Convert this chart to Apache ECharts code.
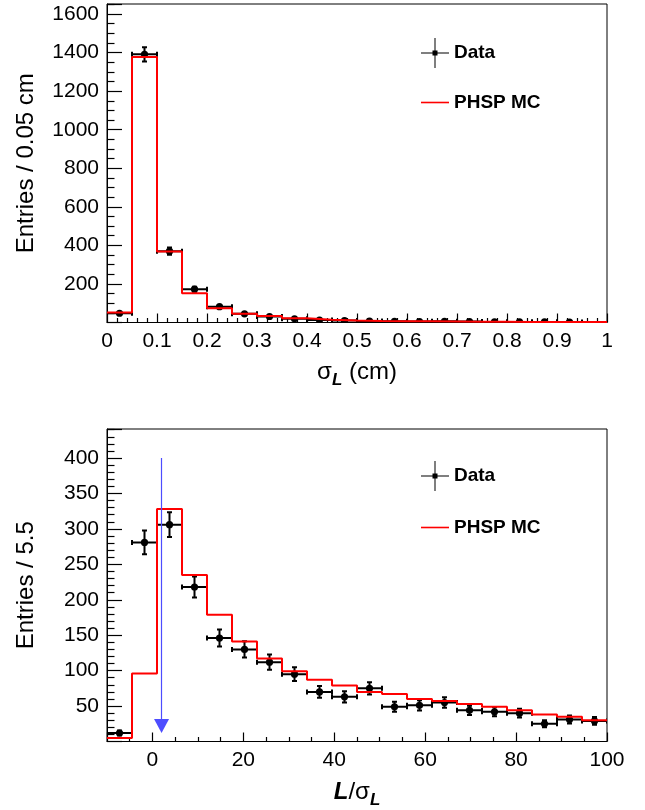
<!DOCTYPE html>
<html>
<head>
<meta charset="utf-8">
<script src="https://cdn.jsdelivr.net/npm/echarts@6/dist/echarts.min.js"></script>
<style>
  html, body { margin: 0; padding: 0; background: #fff; }
  #chart { width: 645px; height: 810px; }
</style>
</head>
<body>
<div id="chart"></div>
<script>
// sigma_L (cm), bins of 0.05 cm starting at 0
const sigBinStart = 0;
const sigBinWidth = 0.05;
const sigData = [48, 1391, 370, 173, 82, 45, 31, 19, 13, 10, 7, 6, 5, 6, 5, 3, 3, 3, 2, null];
const sigDataErr = [7, 37, 19, 13, 9, 6.7, 5.6, 4.4, 3.6, 3.2, 2.6, 2.4, 2.2, 2.4, 2.2, 1.7, 1.7, 1.7, 1.4, 0];
const sigMC = [52, 1377, 368, 152, 74, 46, 34, 22, 14, 10, 8, 7, 6, 5, 4, 4, 3, 3, 2, 2];

// L/sigma_L, bins of 5.5 starting at -10
const lsBinStart = -10;
const lsBinWidth = 5.5;
const lsData = [12, 281, 306, 218, 146, 130, 112, 95, 70, 63, 75, 49, 51, 55, 44, 42, 40, 25, 31, 29];
const lsDataErr = [3.5, 16.8, 17.5, 14.8, 12.1, 11.4, 10.6, 9.7, 8.4, 7.9, 8.7, 7, 7.1, 7.4, 6.6, 6.5, 6.3, 5, 5.6, 5.4];
const lsMC = [5, 96, 328, 235, 179, 141, 117, 99, 87, 79, 70, 67, 60, 57, 53, 49, 44, 38, 35, 30];

// cut arrow on L/sigma_L: [x, from, to]
const cutArrow = [2, 400, 22];

const FONT = '"Liberation Sans", Arial, Helvetica, sans-serif';

// histogram outline: one point per left bin edge plus the closing edge
function stepPoints(start, width, vals) {
  const pts = vals.map((v, i) => [start + i * width, v]);
  pts.push([start + vals.length * width, vals[vals.length - 1]]);
  return pts;
}

function pointItems(start, width, vals, errs) {
  const out = [];
  vals.forEach((v, i) => {
    if (v == null) return;
    out.push([start + (i + 0.5) * width, v, width / 2, errs[i]]);
  });
  return out;
}

function renderPoints(params, api) {
  const x = api.value(0), y = api.value(1), ex = api.value(2), ey = api.value(3);
  const c = api.coord([x, y]);
  const l = api.coord([x - ex, y]), r = api.coord([x + ex, y]);
  const t = api.coord([x, y + ey]), b = api.coord([x, y - ey]);
  const st = { stroke: '#000', lineWidth: 2 };
  const cap = 2.5;
  const line = (x1, y1, x2, y2) => ({ type: 'line', shape: { x1, y1, x2, y2 }, style: st });
  return {
    type: 'group',
    children: [
      line(l[0], c[1], r[0], c[1]),
      line(l[0], c[1] - cap, l[0], c[1] + cap),
      line(r[0], c[1] - cap, r[0], c[1] + cap),
      line(c[0], t[1], c[0], b[1]),
      line(c[0] - cap, t[1], c[0] + cap, t[1]),
      line(c[0] - cap, b[1], c[0] + cap, b[1]),
      { type: 'circle', shape: { cx: c[0], cy: c[1], r: 3.6 }, style: { fill: '#000' } }
    ]
  };
}

const tickLabel = { color: '#000', fontSize: 21, fontFamily: FONT };

function xAxisBase(grid, opts) {
  return Object.assign({
    type: 'value',
    gridIndex: grid,
    axisLine: { show: true, onZero: false, lineStyle: { color: '#000', width: 1 } },
    axisTick: { show: true, inside: true, length: 9, lineStyle: { color: '#000', width: 1.2 } },
    splitLine: { show: false },
    nameLocation: 'middle',
    nameTextStyle: { color: '#000', fontSize: 24, fontFamily: FONT }
  }, opts);
}

function yAxisBase(grid, opts) {
  return Object.assign({
    type: 'value',
    gridIndex: grid,
    axisLine: { show: true, onZero: false, lineStyle: { color: '#000', width: 1 } },
    axisTick: { show: true, inside: true, length: 15, lineStyle: { color: '#000', width: 1.2 } },
    splitLine: { show: false },
    nameLocation: 'middle',
    nameGap: 69,
    nameTextStyle: { color: '#000', fontSize: 24, fontFamily: FONT }
  }, opts);
}

const legendText = { color: '#000', fontSize: 19, fontWeight: 'bold', fontFamily: FONT };
const dataIcon = 'path://M13.5,0h1v30h-1z M0,14.5h28v1h-28z M11.5,12.5h5v5h-5z';
const mcIcon = 'path://M0,0h28v1.6h-28z';

function legendItem(name, icon, left, top, h) {
  return {
    data: [name], icon: icon, left: left, top: top, orient: 'vertical',
    itemWidth: 28, itemHeight: h, itemStyle: { borderWidth: 0 },
    textStyle: legendText, selectedMode: false
  };
}

const minor = (n, len) => ({ show: true, splitNumber: n, length: len, lineStyle: { color: '#000', width: 1.2 } });

const chart = echarts.init(document.getElementById('chart'));

chart.setOption({
  backgroundColor: '#fff',
  animation: false,
  grid: [
    { left: 107, top: 4, width: 500, height: 318.5, show: true, borderColor: '#000', borderWidth: 1, backgroundColor: 'transparent' },
    { left: 107, top: 429, width: 500, height: 318, show: true, borderColor: '#000', borderWidth: 1, backgroundColor: 'transparent' }
  ],
  legend: [
    legendItem('Data', dataIcon, 416, 33, 30),
    legendItem('PHSP MC', mcIcon, 416, 88, 1.6),
    legendItem('Data', dataIcon, 416, 456, 30),
    legendItem('PHSP MC', mcIcon, 416, 513, 1.6)
  ],
  xAxis: [
    xAxisBase(0, {
      min: 0, max: 1, interval: 0.1,
      minorTick: minor(5, 4.5),
      axisLabel: Object.assign({ margin: 8 }, tickLabel),
      name: '{g|σ}{sub|L}{g| (cm)}',
      nameGap: 35,
      nameTextStyle: {
        rich: {
          g: { fontSize: 24, fontFamily: FONT, color: '#000', lineHeight: 30 },
          sub: { fontSize: 17, fontFamily: FONT, color: '#000', fontStyle: 'italic', fontWeight: 'bold', lineHeight: 17, padding: [16, 0, 0, 0] }
        }
      }
    }),
    xAxisBase(1, {
      min: lsBinStart, max: lsBinStart + lsBinWidth * lsMC.length, splitNumber: 5,
      minorTick: minor(4, 4.5),
      axisLabel: Object.assign({
        margin: 8,
        formatter: v => (v % 20 === 0 ? String(v) : '')
      }, tickLabel),
      name: '{b|L}{g|/σ}{sub|L}',
      nameGap: 36,
      nameTextStyle: {
        rich: {
          b: { fontSize: 24, fontFamily: FONT, color: '#000', fontStyle: 'italic', fontWeight: 'bold', lineHeight: 30 },
          g: { fontSize: 24, fontFamily: FONT, color: '#000', lineHeight: 30 },
          sub: { fontSize: 17, fontFamily: FONT, color: '#000', fontStyle: 'italic', fontWeight: 'bold', lineHeight: 17, padding: [16, 0, 0, 0] }
        }
      }
    })
  ],
  yAxis: [
    yAxisBase(0, {
      min: 0, max: 1652, interval: 200,
      minorTick: minor(4, 7.5),
      axisLabel: Object.assign({
        margin: 8,
        formatter: v => (v > 0 && v % 200 === 0 ? String(v) : '')
      }, tickLabel),
      name: 'Entries / 0.05 cm'
    }),
    yAxisBase(1, {
      min: 0, max: 441, interval: 50,
      minorTick: minor(5, 7.5),
      axisLabel: Object.assign({
        margin: 8,
        formatter: v => (v > 0 && v % 50 === 0 ? String(v) : '')
      }, tickLabel),
      name: 'Entries / 5.5'
    })
  ],
  series: [
    {
      name: 'PHSP MC', type: 'line', xAxisIndex: 0, yAxisIndex: 0,
      step: 'end', showSymbol: false, symbol: 'none',
      color: '#ff0000', lineStyle: { color: '#ff0000', width: 2 },
      data: stepPoints(sigBinStart, sigBinWidth, sigMC)
    },
    {
      name: 'Data', type: 'custom', xAxisIndex: 0, yAxisIndex: 0,
      color: '#000', clip: true,
      renderItem: renderPoints,
      encode: { x: 0, y: 1 },
      data: pointItems(sigBinStart, sigBinWidth, sigData, sigDataErr)
    },
    {
      name: 'PHSP MC', type: 'line', xAxisIndex: 1, yAxisIndex: 1,
      step: 'end', showSymbol: false, symbol: 'none',
      color: '#ff0000', lineStyle: { color: '#ff0000', width: 2 },
      data: stepPoints(lsBinStart, lsBinWidth, lsMC),
      markLine: {
        silent: true,
        symbol: ['none', 'triangle'],
        symbolSize: [15, 14],
        label: { show: false },
        lineStyle: { color: '#4d4dff', width: 1.2, type: 'solid' },
        emphasis: { disabled: true },
        data: [[{ coord: [cutArrow[0], cutArrow[1]] }, { coord: [cutArrow[0], cutArrow[2]] }]]
      }
    },
    {
      name: 'Data', type: 'custom', xAxisIndex: 1, yAxisIndex: 1,
      color: '#000', clip: true,
      renderItem: renderPoints,
      encode: { x: 0, y: 1 },
      data: pointItems(lsBinStart, lsBinWidth, lsData, lsDataErr)
    }
  ]
});
</script>
</body>
</html>
